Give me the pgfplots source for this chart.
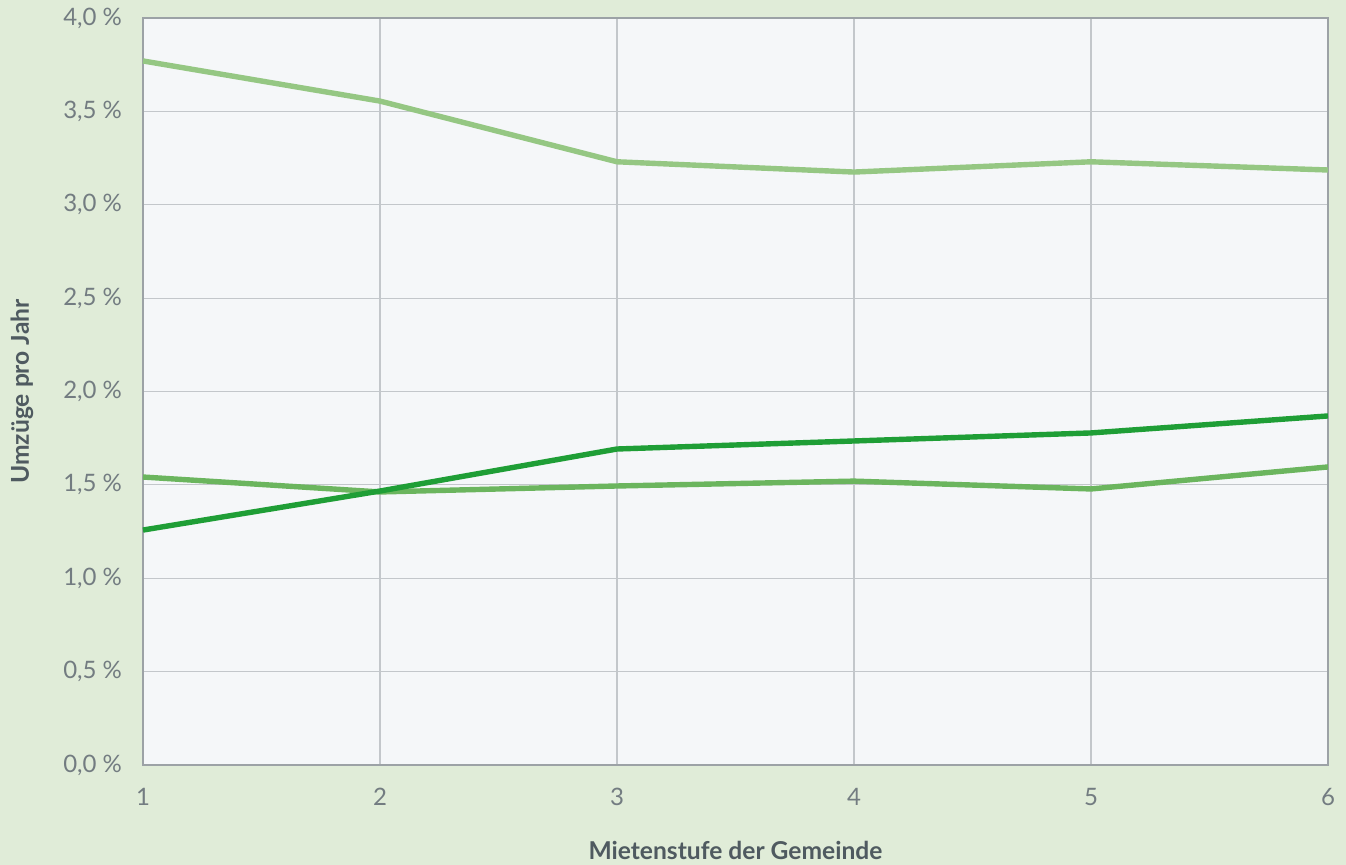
\documentclass[border=0pt]{standalone}
\usepackage{pgfplots}
\pgfplotsset{compat=1.18}
\usepackage{fontspec}
\setmainfont{Lato}
\definecolor{bgout}{HTML}{E0ECD8}
\definecolor{bgin}{HTML}{F5F7F9}
\definecolor{gridc}{HTML}{C3C7CB}
\definecolor{axc}{HTML}{9CA2A6}
\definecolor{txt}{HTML}{737C81}
\definecolor{lab}{HTML}{4F5A60}
\definecolor{cA}{HTML}{95C783}
\definecolor{cB}{HTML}{6BB55E}
\definecolor{cC}{HTML}{1F9E36}
\begin{document}
\begin{tikzpicture}
\fill[bgout] (-71.5pt,-50pt) rectangle (601.5pt,382.5pt);
\begin{axis}[
  at={(0,0)}, anchor=south west,
  scale only axis, width=592.5pt, height=373.5pt,
  xmin=1, xmax=6, ymin=0, ymax=4,
  xtick={1,2,3,4,5,6},
  ytick={0,0.5,...,4},
  axis background/.style={fill=bgin},
  grid=major,
  major grid style={gridc, line width=0.6pt},
  axis line style={axc, line width=0.7pt},
  major tick length=0pt,
  tick label style={font=\fontsize{12pt}{14pt}\selectfont, color=txt},
  /pgf/number format/assume math mode=true,
  yticklabel={\pgfmathprintnumber[fixed, fixed zerofill, precision=1, use comma]{\tick}~\%},
  yticklabel shift={7pt},
  xticklabel shift={8pt},
  xlabel={Mietenstufe der Gemeinde},
  ylabel={Umzüge pro Jahr},
  label style={font=\bfseries\fontsize{12.3pt}{14pt}\selectfont, color=lab},
  xlabel style={at={(axis description cs:0.5,0)}, anchor=center, yshift=-42.5pt},
  ylabel style={at={(axis description cs:0,0.5)}, anchor=center, yshift=60.5pt},
  clip=false,
]
\addplot[cA, line width=2.7pt, line join=round] coordinates {(1,3.77) (2,3.555) (3,3.23) (4,3.175) (5,3.23) (6,3.186)};
\addplot[cB, line width=2.7pt, line join=round] coordinates {(1,1.542) (2,1.462) (3,1.494) (4,1.52) (5,1.478) (6,1.596)};
\addplot[cC, line width=2.7pt, line join=round] coordinates {(1,1.258) (2,1.467) (3,1.692) (4,1.735) (5,1.778) (6,1.869)};
\end{axis}
\pgfresetboundingbox
\path[use as bounding box] (-71.5pt,-50pt) rectangle (601.5pt,382.5pt);
\end{tikzpicture}
\end{document}
